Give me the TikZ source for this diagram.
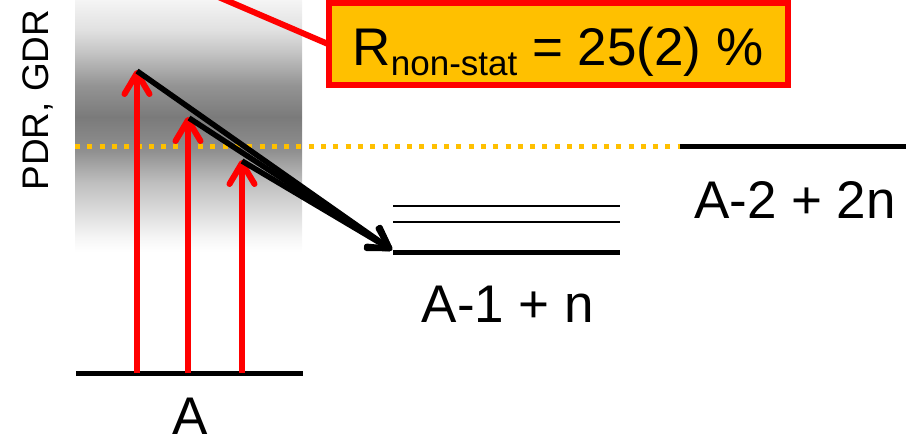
\documentclass[tikz,border=0pt]{standalone}
\usepackage{fontspec}
\setmainfont{Liberation Sans}
\usetikzlibrary{arrows.meta,shadows}
\definecolor{boxorange}{HTML}{FFC000}
\definecolor{pured}{HTML}{FF0000}
\pgfdeclareverticalshading{grayband}{100bp}{color(0bp)=(white); color(25bp)=(white); color(28bp)=(black!4); color(38.7bp)=(black!25); color(45.2bp)=(black!44); color(51.8bp)=(black!52); color(58.1bp)=(black!42); color(65bp)=(black!22); color(69bp)=(black!12); color(75bp)=(black!4); color(100bp)=(black!4)}
\tikzset{
  level/.style={line width=5pt},
  thinlevel/.style={line width=2pt},
  big/.style={font=\fontsize{53}{60}\selectfont, inner sep=0pt},
  excite/.style={pured, line width=6pt, -{Straight Barb[length=21pt,width=25pt,round]}},
  decay/.style={black, line width=5.5pt, -{Straight Barb[length=20pt,width=23pt,round]}},
  sepline/.style={boxorange, line width=5pt, dash pattern=on 5pt off 7.3pt},
  resultbox/.style={draw=pured, line width=6pt, fill=boxorange, minimum width=459pt, minimum height=82pt, inner sep=0pt, text height=42pt, text depth=0pt, font=\fontsize{53}{60}\selectfont, drop shadow={shadow xshift=2pt, shadow yshift=-3pt, opacity=0.3, fill=black}},
}
\begin{document}
\begin{tikzpicture}[x=1pt,y=-1pt]
\useasboundingbox (0,0) rectangle (906,437);
\clip (0,0) rectangle (906,437);
% grey band (PDR, GDR region)
\shade[shading=grayband] (75,0) rectangle (302,252);
\node[rotate=90, font=\fontsize{37}{42}\selectfont, inner sep=0pt] (pdr) at (38,100) {PDR, GDR};
% separation energy
\coordinate (sepL) at (75,146);
\coordinate (sepR) at (680,146);
\draw[sepline] (sepL) -- (sepR);
% levels
\coordinate (gL) at (76,373);  \coordinate (gR) at (303,373);
\draw[level] (gL) -- (gR);
\node[big, anchor=base] (lblA) at (190,434) {A};
\coordinate (a1L) at (393,252); \coordinate (a1R) at (620,252);
\coordinate (a2L) at (393,206); \coordinate (a2R) at (620,206);
\coordinate (a3L) at (393,222); \coordinate (a3R) at (620,222);
\draw[level] (a1L) -- (a1R);
\draw[thinlevel] (a2L) -- (a2R);
\draw[thinlevel] (a3L) -- (a3R);
\node[big, anchor=base] (lblA1) at (508,322) {A-1 + n};
\coordinate (bL) at (680,146); \coordinate (bR) at (906,146);
\draw[level] (bL) -- (bR);
\node[big, anchor=base] (lblA2) at (795,218) {A-2 + 2n};
% excitations
\coordinate (e1b) at (137,373); \coordinate (e1t) at (137,70);
\coordinate (e2b) at (188,373); \coordinate (e2t) at (188,117);
\coordinate (e3b) at (242,373); \coordinate (e3t) at (242,160);
\draw[excite] (e1b) -- (e1t);
\draw[excite] (e2b) -- (e2t);
\draw[excite] (e3b) -- (e3t);
% decays
\coordinate (d1) at (137,71);
\coordinate (d2) at (189,118);
\coordinate (d3) at (242,161);
\coordinate (dend) at (392,250);
\draw[decay] (d1) -- (dend);
\draw[decay] (d2) -- (dend);
\draw[decay] (d3) -- (dend);
% result box with its pointer line
\coordinate (tail) at (130,-41);
\coordinate (boxW) at (328,44);
\draw[pured, line width=6pt] (tail) -- (boxW);
\node[resultbox] (rbox) at (558,44) {R\raisebox{-10pt}{\fontsize{35}{40}\selectfont non-stat} = 25(2) \%};
\end{tikzpicture}
\end{document}
